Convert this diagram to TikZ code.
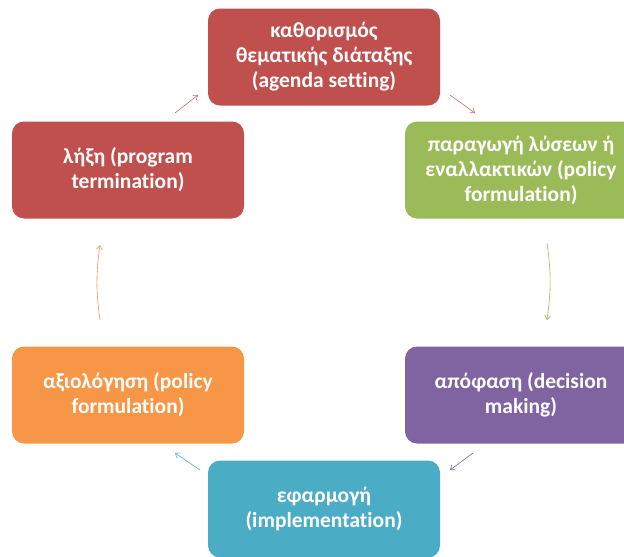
\documentclass[tikz,border=0pt]{standalone}
\usepackage{fontspec}
\setmainfont{Carlito}[Ligatures=NoCommon]
\usetikzlibrary{positioning,arrows.meta}

\definecolor{stagered}{HTML}{C0504D}
\definecolor{stagegreen}{HTML}{9BBB59}
\definecolor{stagepurple}{HTML}{8064A2}
\definecolor{stageblue}{HTML}{4BACC6}
\definecolor{stageorange}{HTML}{F79646}

\tikzset{
  stage/.style = {rectangle, rounded corners = 12pt, minimum width = 232pt,
    minimum height = 97pt, inner sep = 0pt, text = white, align = center,
    font = \bfseries\fontsize{21.5}{25}\selectfont},
  cycle arrow/.style = {-{Straight Barb[length = 4pt, width = 6pt]}, line width = 0.6pt},
}

\begin{document}
\begin{tikzpicture}[x = 1pt, y = -1pt]
  \useasboundingbox (0,0) rectangle (624,557);

  % Define stages
  \node [stage, fill = stagered] (agenda) at (324,57) {καθορισμός\\θεματικής διάταξης\\(agenda setting)};
  \node [stage, fill = stagegreen] (formulation) at (521,170) {παραγωγή λύσεων ή\\εναλλακτικών (policy\\formulation)};
  \node [stage, fill = stagepurple] (decision) at (521,395) {απόφαση (decision\\making)};
  \node [stage, fill = stageblue] (implementation) at (324,509) {εφαρμογή\\(implementation)};
  \node [stage, fill = stageorange] (evaluation) at (128,395) {αξιολόγηση (policy\\formulation)};
  \node [stage, fill = stagered] (termination) at (128,170) {λήξη (program\\termination)};

  % Arrow ends
  \coordinate (term_out) at (175,113);
  \coordinate (agenda_in) at (198,95);
  \coordinate (agenda_out) at (450,95);
  \coordinate (form_in) at (475,113);
  \coordinate (form_out) at (547,243);
  \coordinate (dec_in) at (547,320);
  \coordinate (dec_out) at (473,453);
  \coordinate (impl_in) at (450,470);
  \coordinate (impl_out) at (200,470);
  \coordinate (eval_in) at (175,453);
  \coordinate (eval_out) at (100,320);
  \coordinate (term_in) at (100,245);

  % Draw arrows
  \draw [cycle arrow, stagered!85] (term_out) -- (agenda_in);
  \draw [cycle arrow, stagered!85] (agenda_out) -- (form_in);
  \draw [cycle arrow, stagegreen] (form_out) to [bend left = 8] (dec_in);
  \draw [cycle arrow, stagepurple] (dec_out) -- (impl_in);
  \draw [cycle arrow, stageblue] (impl_out) -- (eval_in);
  \draw [cycle arrow, stageorange] (eval_out) to [bend left = 8] (term_in);
\end{tikzpicture}
\end{document}
